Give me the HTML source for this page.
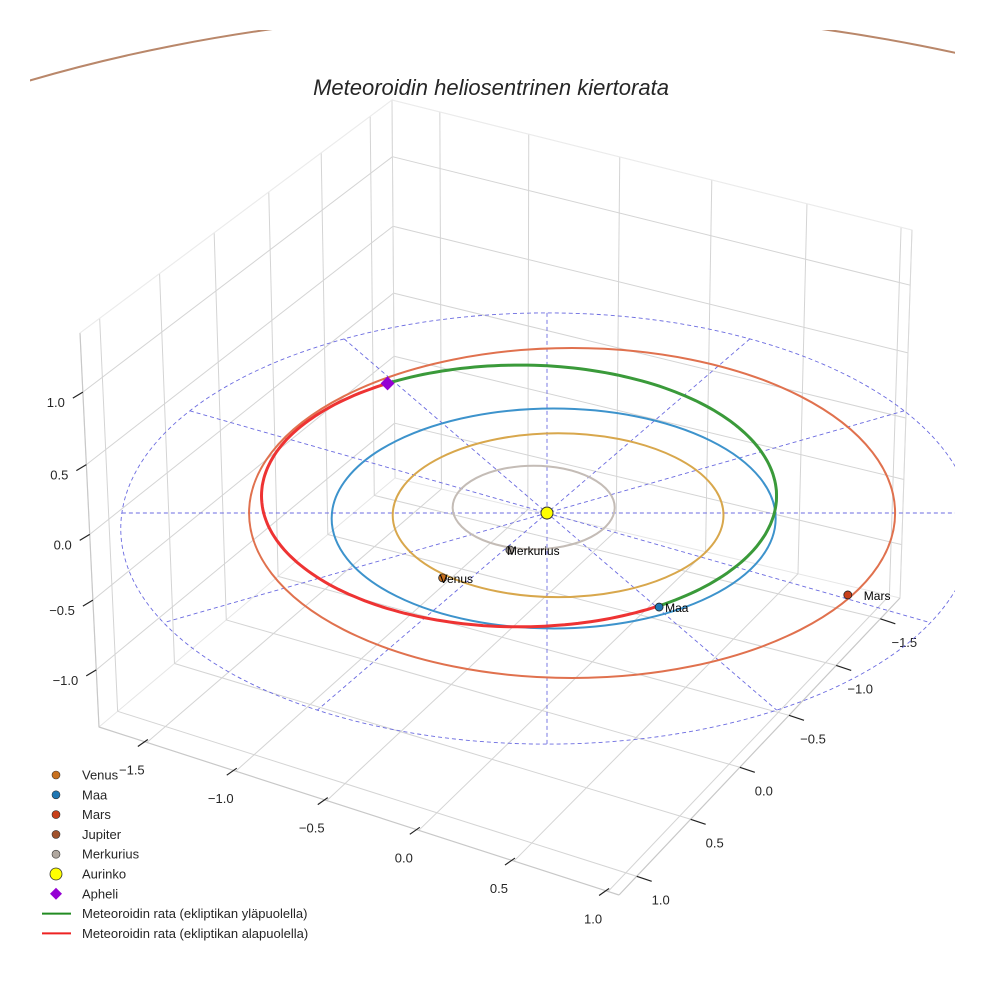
<!DOCTYPE html>
<html><head><meta charset="utf-8"><style>
body{margin:0;background:#fff}
svg{display:block;font-family:"Liberation Sans",sans-serif}
</style></head><body>
<svg id="c" width="984" height="984" viewBox="0 0 984 984">
<defs><clipPath id="clip"><rect x="30" y="30" width="925" height="900"/></clipPath></defs>
<rect width="984" height="984" fill="#fff"/>
<g id="grid"></g>
<g id="marks"></g>
<text x="491" y="95" text-anchor="middle" font-size="22" font-style="italic" fill="#262626">Meteoroidin heliosentrinen kiertorata</text>
<g id="legend"></g>
</svg>
<script>
const xTicks=[-1.5,-1.0,-0.5,0.0,0.5,1.0];
const xTickFrac=[0.092,0.263,0.438,0.615,0.798,0.979];
const yTicks=[-1.5,-1.0,-0.5,0.0,0.5,1.0];
const yTickFrac=[0.07,0.227,0.395,0.57,0.745,0.937];
const zTicks=[-1.0,-0.5,0.0,0.5,1.0];
const zTickFrac=[0.145,0.322,0.489,0.666,0.85];
const orbitNames=["Merkurius","Venus","Maa","Mars","Jupiter"];
const orbitA=[0.365,0.745,1.0,1.455,4.57];
const orbitB=[0.38,0.745,1.0,1.5,4.57];
const orbitCx=[-0.06,0.05,0.03,0.113,0];
const orbitCy=[-0.05,0.02,0.05,0.0,0];
const orbitColors=["#c4bcb6","#d8a74c","#3d93cc","#e0714e","#b9876a"];
const planetNames=["Venus","Merkurius","Maa","Mars"];
const planetX=[-0.47,-0.167,0.505,1.355];
const planetY=[0.59,0.336,0.855,0.745];
const planetColors=["#c8701e","#a09890","#1f77b4","#c8401a"];
const meteorA=1.16, meteorB=1.19, meteorCx=-0.126, meteorCy=-0.155;
const aphelionAngle=-120.7, earthAngle=57;
const refA=1.92, refB=1.96, refCy=0.141, refAngles=[0,30,60,90,120,150];

const NS="http://www.w3.org/2000/svg";
function mk(parent,tag,attrs){const e=document.createElementNS(NS,tag);for(const k in attrs)e.setAttribute(k,attrs[k]);parent.appendChild(e);return e;}
const SX=547,SY=513,KX=222,KY=110;
function px(x){return SX+KX*x;}
function py(y){return SY+KY*y;}
const L=[99,727],F=[619,895],R=[900,598],B=[395,478],Lt=[80,333],Bt=[392,100],Rt=[912,230];
function lerp(a,b,t){return [a[0]+(b[0]-a[0])*t,a[1]+(b[1]-a[1])*t];}
function floorP(u,v){return lerp(lerp(L,F,u),lerp(B,R,u),v);}
function leftP(v,z){return lerp(lerp(L,B,v),lerp(Lt,Bt,v),z);}
function rightP(u,z){return lerp(lerp(B,R,u),lerp(Bt,Rt,u),z);}
const grid=document.getElementById('grid');
function line(g,a,b,st,w,name){const e=mk(g,'line',{x1:a[0],y1:a[1],x2:b[0],y2:b[1],stroke:st,'stroke-width':w});

return e;}
mk(grid,'polygon',{points:[L,B,Bt,Lt].map(p=>p.join(',')).join(' '),fill:'#fff',stroke:'#e6e6e6'});
mk(grid,'polygon',{points:[B,R,Rt,Bt].map(p=>p.join(',')).join(' '),fill:'#fff',stroke:'#e6e6e6'});
xTickFrac.forEach(u=>{line(grid,floorP(u,0),floorP(u,1),'#d4d4d4',1,'x-gridline');line(grid,rightP(u,0),rightP(u,1),'#d4d4d4',1,'x-gridline');});
yTickFrac.forEach(s=>{const v=1-s;line(grid,floorP(0,v),floorP(1,v),'#d4d4d4',1,'y-gridline');line(grid,leftP(v,0),leftP(v,1),'#d4d4d4',1,'y-gridline');});
zTickFrac.forEach(z=>{line(grid,leftP(0,z),leftP(1,z),'#d4d4d4',1,'z-gridline');line(grid,rightP(0,z),rightP(1,z),'#d4d4d4',1,'z-gridline');});
line(grid,L,F,'#c8c8c8',1.2,'x-axis-line');line(grid,F,R,'#c8c8c8',1.2,'y-axis-line');line(grid,L,Lt,'#c8c8c8',1.2,'z-axis-line');
line(grid,B,Bt,'#d8d8d8',1,'pane-edge');line(grid,Lt,Bt,'#ececec',1,'pane-edge');line(grid,Bt,Rt,'#ececec',1,'pane-edge');line(grid,R,Rt,'#d8d8d8',1,'pane-edge');
function lbl(g,x,y,t,anchor,name){const e=mk(g,'text',{x:x,y:y,'font-size':13,fill:'#262626','text-anchor':anchor});e.textContent=t;

}
function fmt(v){return (v<0?'\u2212':'')+Math.abs(v).toFixed(1);}
xTickFrac.forEach((u,i)=>{const p=floorP(u,0);line(grid,[p[0]+1,p[1]-3],[p[0]-9,p[1]+4],'#222',1.2,'x-tick');lbl(grid,p[0]-15,p[1]+32,fmt(xTicks[i]),'middle','x-tick-label');});
yTickFrac.forEach((s,i)=>{const p=floorP(1,1-s);line(grid,p,[p[0]+15,p[1]+5],'#222',1.2,'y-tick');lbl(grid,p[0]+24,p[1]+28,fmt(yTicks[i]),'middle','y-tick-label');});
zTickFrac.forEach((z,i)=>{const p=leftP(0,z);line(grid,p,[p[0]-10,p[1]+6],'#222',1.2,'z-tick');lbl(grid,p[0]-18,p[1]+15,fmt(zTicks[i]),'end','z-tick-label');});
const marks=document.getElementById('marks');
const cl=mk(marks,'g',{'clip-path':'url(#clip)'});
function ell(g,cx,cy,a,b,color,w,name,dash){const e=mk(g,'ellipse',{cx:px(cx),cy:py(cy),rx:KX*a,ry:KY*b,fill:'none',stroke:color,'stroke-width':w});if(dash)e.setAttribute('stroke-dasharray',dash);

}
ell(cl,0,refCy,refA,refB,'#6b6be0',0.9,'reference-circle','4 3');
function refHit(dx,dy){
const a=(dx*dx)/(refA*refA)+(dy*dy)/(refB*refB), b=-2*dy*refCy/(refB*refB), c=refCy*refCy/(refB*refB)-1;
return (-b+Math.sqrt(b*b-4*a*c))/(2*a);}
refAngles.forEach(a=>{const r=a*Math.PI/180,dx=Math.cos(r),dy=Math.sin(r);const t1=refHit(dx,dy),t2=refHit(-dx,-dy);
const e=mk(cl,'line',{x1:px(-t2*dx),y1:py(-t2*dy),x2:px(t1*dx),y2:py(t1*dy),stroke:'#6b6be0','stroke-width':0.9,'stroke-dasharray':'4 3'});

});
orbitNames.forEach((n,i)=>ell(cl,orbitCx[i],orbitCy[i],orbitA[i],orbitB[i],orbitColors[i],2,'orbit-'+n.toLowerCase()));
function arc(t0,t1,color,name){let d='';for(let k=0;k<=120;k++){const t=(t0+(t1-t0)*k/120)*Math.PI/180;d+=(k?'L':'M')+px(meteorCx+meteorA*Math.cos(t)).toFixed(1)+','+py(meteorCy+meteorB*Math.sin(t)).toFixed(1);}
const e=mk(marks,'path',{d:d,fill:'none',stroke:color,'stroke-width':3});

}
arc(aphelionAngle,earthAngle,'#3a9a3a','meteoroid-orbit-above');
arc(earthAngle,360+aphelionAngle,'#ee3333','meteoroid-orbit-below');
planetNames.forEach((n,i)=>{const c=mk(marks,'circle',{cx:px(planetX[i]),cy:py(planetY[i]),r:4,fill:planetColors[i],stroke:'#222','stroke-width':0.8});


const dx=n==='Mars'?16:(n==='Maa'?6:-3);
const t=mk(marks,'text',{x:px(planetX[i])+dx,y:py(planetY[i])+5,'font-size':12,fill:'#000'});t.textContent=n;

});
const sun=mk(marks,'circle',{cx:SX,cy:SY,r:6,fill:'#ffff00',stroke:'#333','stroke-width':1});


const ax=px(meteorCx+meteorA*Math.cos(aphelionAngle*Math.PI/180)),ay=py(meteorCy+meteorB*Math.sin(aphelionAngle*Math.PI/180));
const ap=mk(marks,'polygon',{points:`${ax},${ay-7} ${ax+7},${ay} ${ax},${ay+7} ${ax-7},${ay}`,fill:'#9400d3'});


const leg=document.getElementById('legend');
const legNames=["Venus","Maa","Mars","Jupiter","Merkurius","Aurinko","Apheli","Meteoroidin rata (ekliptikan yläpuolella)","Meteoroidin rata (ekliptikan alapuolella)"];
const legColors=["#c8701e","#1f77b4","#c8401a","#a0522d","#b0a8a0","#ffff00","#9400d3","#228b22","#ee2222"];
legNames.forEach((n,i)=>{const y=775+i*19.8;const g=mk(leg,'g',{});


if(i<5)mk(g,'circle',{cx:56,cy:y,r:4,fill:legColors[i],stroke:'#333','stroke-width':0.6});
else if(i===5)mk(g,'circle',{cx:56,cy:y,r:6,fill:legColors[i],stroke:'#333','stroke-width':0.8});
else if(i===6)mk(g,'polygon',{points:`56,${y-6} 62,${y} 56,${y+6} 50,${y}`,fill:legColors[i]});
else mk(g,'line',{x1:42,y1:y,x2:71,y2:y,stroke:legColors[i],'stroke-width':2});
const t=mk(g,'text',{x:82,y:y+4.5,'font-size':13,fill:'#262626'});t.textContent=n;});
</script>
</body></html>
